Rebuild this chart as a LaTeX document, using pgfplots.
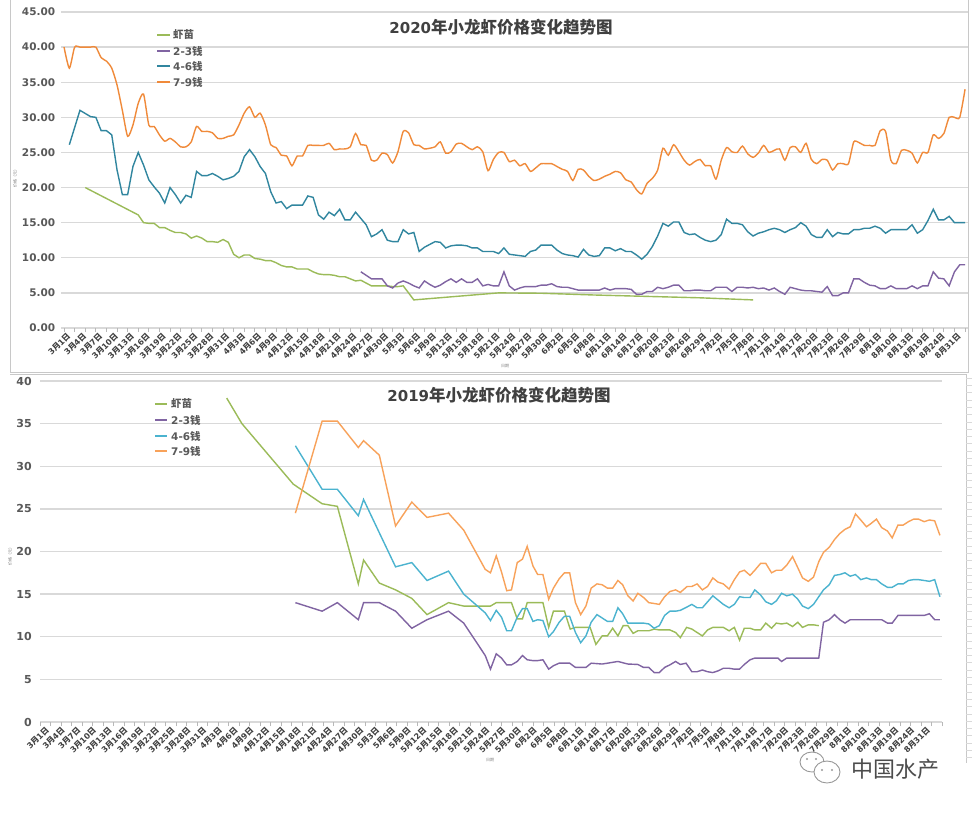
\documentclass[border=0pt]{standalone}
\usepackage{fontspec}
\setmainfont{DejaVu Sans}
\newfontfamily\cjk{Noto Sans CJK SC}
\usepackage{pgfplots}
\pgfplotsset{compat=1.18}
\definecolor{cgreen}{HTML}{9BBB59}
\definecolor{cpurple}{HTML}{8064A2}
\definecolor{cteal}{HTML}{31869F}
\definecolor{corange}{HTML}{F08A3A}
\definecolor{cteal2}{HTML}{4BB3CF}
\definecolor{corange2}{HTML}{F8A25A}
\definecolor{cgreen2}{HTML}{9BBB59}
\definecolor{cgrid}{HTML}{D9D9D9}
\definecolor{ctext}{HTML}{595959}
\definecolor{ctitle}{HTML}{404040}
\definecolor{cframe}{HTML}{C8C8C8}
\newcommand\yue{{\cjk 月}}
\newcommand\ri{{\cjk 日}}
\pgfplotsset{
 mylabels/.style={xticklabels={3\yue1\ri,3\yue4\ri,3\yue7\ri,3\yue10\ri,3\yue13\ri,3\yue16\ri,3\yue19\ri,3\yue22\ri,3\yue25\ri,3\yue28\ri,3\yue31\ri,
 4\yue3\ri,4\yue6\ri,4\yue9\ri,4\yue12\ri,4\yue15\ri,4\yue18\ri,4\yue21\ri,4\yue24\ri,4\yue27\ri,4\yue30\ri,
 5\yue3\ri,5\yue6\ri,5\yue9\ri,5\yue12\ri,5\yue15\ri,5\yue18\ri,5\yue21\ri,5\yue24\ri,5\yue27\ri,5\yue30\ri,
 6\yue2\ri,6\yue5\ri,6\yue8\ri,6\yue11\ri,6\yue14\ri,6\yue17\ri,6\yue20\ri,6\yue23\ri,6\yue26\ri,6\yue29\ri,
 7\yue2\ri,7\yue5\ri,7\yue8\ri,7\yue11\ri,7\yue14\ri,7\yue17\ri,7\yue20\ri,7\yue23\ri,7\yue26\ri,7\yue29\ri,
 8\yue1\ri,8\yue10\ri,8\yue13\ri,8\yue19\ri,8\yue24\ri,8\yue31\ri}},
 mystyle/.style={
  scale only axis, anchor=south west,
  axis line style={draw=none},
  major tick length=0pt, minor tick length=4pt, tick align=outside,
  xtick pos=bottom, ytick pos=left,
  ymajorgrids, grid style={cgrid, line width=1.3pt},
  minor tick style={cgrid!85!black, line width=0.8pt},
  xtick={0,3,...,168}, mylabels,
  xticklabel style={rotate=45, anchor=east, inner sep=0pt, xshift=-1pt, yshift=-8pt,
     font=\fontsize{8}{9}\selectfont\bfseries, text=ctitle},
  yticklabel style={inner sep=0pt, text=ctext},
  every axis plot/.append style={line width=1.4pt, mark=none},
 }
}
\begin{document}
\begin{tikzpicture}[x=1pt,y=1pt]
\useasboundingbox (0,0) rectangle (974,812);
\fill[white] (0,0) rectangle (974,812);
% frames
\draw[cframe, line width=0.8pt] (10,812) -- (10,440) -- (968,440) -- (968,812);
\draw[cframe, line width=0.8pt] (10,438) -- (966,438) -- (966,49);
\foreach \k in {0,...,52} {\draw[cgrid, line width=0.5pt] (966,434-7.3*\k) -- (972,434-7.3*\k);}

% ===== 2020 =====
\begin{axis}[mystyle, at={(61.4pt,484pt)}, width=906.3pt, height=316pt,
  xmin=-0.5, xmax=170.5, ymin=0, ymax=45,
  minor xtick={0,2,...,170},
  ytick={0,5,...,45}, yticklabels={0.00,5.00,10.00,15.00,20.00,25.00,30.00,35.00,40.00,45.00},
  yticklabel style={xshift=-6pt, font=\fontsize{10.5}{12}\selectfont\bfseries}]
\addplot[cgreen] coordinates {(4,20.0)(14,16.1)(15,15.0)(16,14.9)(17,14.9)(18,14.3)(19,14.3)(20,13.9)(21,13.6)(22,13.6)(23,13.4)(24,12.8)(25,13.1)(26,12.8)(27,12.3)(28,12.3)(29,12.2)(30,12.6)(31,12.2)(32,10.5)(33,10.0)(34,10.4)(35,10.4)(36,9.9)(37,9.8)(38,9.6)(39,9.6)(40,9.3)(41,8.9)(42,8.7)(43,8.7)(44,8.4)(45,8.4)(46,8.4)(47,8.0)(48,7.7)(49,7.6)(50,7.6)(51,7.5)(52,7.3)(53,7.3)(54,7.0)(55,6.7)(56,6.8)(57,6.4)(58,6.0)(59,6.0)(60,6.0)(61,6.0)(62,5.9)(63,5.9)(64,6.0)(66,4.0)(82,5.0)(90,4.95)(100,4.7)(110,4.5)(120,4.3)(130,4.0)};
\addplot[cpurple] coordinates {(56,8.0)(57,7.5)(58,7.0)(59,7.0)(60,7.0)(61,6.0)(62,5.7)(63,6.4)(64,6.7)(65,6.4)(66,6.0)(67,5.7)(68,6.7)(69,6.2)(70,5.8)(71,6.1)(72,6.6)(73,7.0)(74,6.5)(75,7.0)(76,6.5)(77,6.5)(78,7.0)(79,6.0)(80,6.2)(81,6.0)(82,6.0)(83,8.0)(84,6.0)(85,5.4)(86,5.7)(87,5.9)(88,5.9)(89,5.9)(90,6.1)(91,6.1)(92,6.3)(93,5.9)(94,5.8)(95,5.8)(96,5.6)(97,5.4)(98,5.4)(99,5.4)(100,5.4)(101,5.4)(102,5.7)(103,5.4)(104,5.6)(105,5.6)(106,5.6)(107,5.5)(108,4.8)(109,4.8)(110,5.2)(111,5.2)(112,5.8)(113,5.6)(114,5.8)(115,6.1)(116,6.1)(117,5.3)(118,5.3)(119,5.4)(120,5.4)(121,5.3)(122,5.3)(123,5.8)(124,5.8)(125,5.8)(126,5.2)(127,5.8)(128,5.8)(129,5.7)(130,5.8)(131,5.6)(132,5.7)(133,5.4)(134,5.7)(135,5.2)(136,4.8)(137,5.8)(138,5.6)(139,5.4)(140,5.3)(141,5.3)(142,5.2)(143,5.1)(144,5.9)(145,4.6)(146,4.6)(147,5.0)(148,5.0)(149,7.0)(150,7.0)(151,6.5)(152,6.1)(153,6.0)(154,5.6)(155,5.6)(156,6.0)(157,5.6)(158,5.6)(159,5.6)(160,6.0)(161,5.6)(162,6.0)(163,6.0)(164,8.0)(165,7.1)(166,7.0)(167,6.0)(168,8.0)(169,9.0)(170,9.0)};
\addplot[cteal] coordinates {(1,26.1)(3,31.0)(5,30.1)(6,30.0)(7,28.1)(8,28.1)(9,27.5)(10,22.5)(11,19.0)(12,19.0)(13,23.0)(14,25.0)(15,23.2)(16,21.1)(17,20.1)(18,19.2)(19,17.8)(20,20.0)(21,19.0)(22,17.8)(23,18.9)(24,18.6)(25,22.3)(26,21.7)(27,21.7)(28,22.0)(29,21.6)(30,21.1)(31,21.3)(32,21.6)(33,22.3)(34,24.4)(35,25.4)(36,24.4)(37,23.0)(38,22.0)(39,19.4)(40,17.8)(41,18.0)(42,17.0)(43,17.5)(44,17.5)(45,17.5)(46,18.8)(47,18.6)(48,16.1)(49,15.5)(50,16.5)(51,16.0)(52,16.9)(53,15.4)(54,15.4)(55,16.5)(56,15.6)(57,14.7)(58,13.0)(59,13.4)(60,14.0)(61,12.5)(62,12.3)(63,12.3)(64,14.0)(65,13.4)(66,13.6)(67,10.9)(68,11.5)(69,11.9)(70,12.3)(71,12.2)(72,11.4)(73,11.7)(74,11.8)(75,11.8)(76,11.7)(77,11.4)(78,11.4)(79,10.9)(80,10.9)(81,10.9)(82,10.6)(83,11.4)(84,10.5)(85,10.4)(86,10.3)(87,10.2)(88,10.9)(89,11.1)(90,11.8)(91,11.8)(92,11.8)(93,11.1)(94,10.6)(95,10.4)(96,10.3)(97,10.1)(98,11.2)(99,10.4)(100,10.2)(101,10.3)(102,11.4)(103,11.4)(104,11.0)(105,11.3)(106,10.9)(107,10.9)(108,10.4)(109,9.8)(110,10.5)(111,11.6)(112,13.1)(113,14.9)(114,14.5)(115,15.1)(116,15.1)(117,13.6)(118,13.3)(119,13.4)(120,12.9)(121,12.5)(122,12.3)(123,12.5)(124,13.3)(125,15.5)(126,14.9)(127,14.9)(128,14.7)(129,13.7)(130,13.1)(131,13.5)(132,13.7)(133,14.0)(134,14.2)(135,14.0)(136,13.6)(137,14.0)(138,14.3)(139,15.0)(140,14.5)(141,13.3)(142,12.9)(143,12.9)(144,14.0)(145,13.0)(146,13.6)(147,13.4)(148,13.4)(149,14.0)(150,14.0)(151,14.2)(152,14.2)(153,14.5)(154,14.2)(155,13.5)(156,14.0)(157,14.0)(158,14.0)(159,14.0)(160,14.7)(161,13.5)(162,14.0)(163,15.3)(164,16.9)(165,15.4)(166,15.4)(167,15.9)(168,15.0)(169,15.0)(170,15.0)};
\addplot[corange, smooth, tension=0.4] coordinates {(0,40)(1,37)(2,40)(3,40)(4,40)(5,40)(6,40)(7,38.5)(8,38)(9,37)(10,34.6)(11,31)(12,27.3)(13,28.9)(14,32)(15,33.3)(16,28.9)(17,28.7)(18,27.5)(19,26.6)(20,27.0)(21,26.5)(22,25.8)(23,25.8)(24,26.5)(25,28.7)(26,28)(27,28)(28,27.8)(29,27.0)(30,27.0)(31,27.3)(32,27.5)(33,28.9)(34,30.6)(35,31.5)(36,30.0)(37,30.6)(38,28.9)(39,26.1)(40,25.7)(41,24.6)(42,24.5)(43,23.1)(44,24.5)(45,24.5)(46,26.0)(47,26)(48,26)(49,26)(50,26.3)(51,25.4)(52,25.5)(53,25.5)(54,25.8)(55,27.7)(56,26.1)(57,26.0)(58,23.9)(59,23.9)(60,24.9)(61,24.7)(62,23.5)(63,25.1)(64,28.0)(65,27.8)(66,26.1)(67,26.0)(68,25.5)(69,25.6)(70,25.8)(71,26.5)(72,24.9)(73,25.1)(74,26.2)(75,26.3)(76,25.8)(77,25.4)(78,25.8)(79,25.1)(80,22.4)(81,24.0)(82,25.0)(83,25.0)(84,23.7)(85,23.9)(86,23.1)(87,23.4)(88,22.3)(89,22.8)(90,23.4)(91,23.4)(92,23.4)(93,23.0)(94,22.6)(95,22.3)(96,21.0)(97,22.6)(98,22.5)(99,21.6)(100,21.0)(101,21.2)(102,21.6)(103,21.9)(104,22.3)(105,22.1)(106,21.1)(107,20.8)(108,19.7)(109,19.1)(110,20.6)(111,21.3)(112,22.5)(113,25.6)(114,24.6)(115,26.1)(116,25.1)(117,23.9)(118,23.2)(119,23.7)(120,24.0)(121,23.1)(122,23.1)(123,21.2)(124,23.9)(125,25.7)(126,25.1)(127,25.0)(128,25.9)(129,24.8)(130,24.3)(131,24.9)(132,26.0)(133,25.0)(134,25.3)(135,25.5)(136,23.9)(137,25.7)(138,25.8)(139,25.0)(140,26.3)(141,24.0)(142,23.4)(143,24.0)(144,23.9)(145,22.5)(146,23.4)(147,23.4)(148,23.4)(149,26.5)(150,26.4)(151,26.0)(152,26.0)(153,26.0)(154,28.1)(155,28.0)(156,23.9)(157,23.4)(158,25.3)(159,25.3)(160,24.9)(161,23.5)(162,25.0)(163,25.0)(164,27.5)(165,27.0)(166,27.7)(167,30.0)(168,30)(169,30.0)(170,34.0)};
\end{axis}

% ===== 2019 =====
\begin{axis}[mystyle, at={(40pt,90pt)}, width=902pt, height=341pt,
  xmin=-0.5, xmax=171.5, ymin=0, ymax=40,
  minor xtick={-0.5,1.5,...,171.5},
  ytick={0,5,...,40}, yticklabels={0,5,10,15,20,25,30,35,40},
  yticklabel style={xshift=-8pt, font=\fontsize{11}{12}\selectfont\bfseries}]
\addplot[cgreen2] coordinates {(35.1,38.0)(38.0,35.0)(47.8,27.9)(53.3,25.6)(56.2,25.3)(60.2,16.2)(61.2,19.0)(64.2,16.3)(67.3,15.5)(70.4,14.5)(73.3,12.6)(77.4,14.0)(80.3,13.6)(85.4,13.6)(86.5,14.0)(89.4,14.0)(90.5,12.1)(91.5,12.1)(92.4,14.0)(95.4,14.0)(96.5,11.1)(97.4,13.0)(99.5,13.0)(100.6,10.9)(101.6,11.1)(104.4,11.1)(105.5,9.1)(106.7,10.1)(107.7,10.1)(108.7,11.0)(109.7,10.1)(110.7,11.3)(111.6,11.3)(112.6,10.4)(113.5,10.7)(115.6,10.7)(116.6,10.9)(117.6,10.8)(119.6,10.8)(120.7,10.5)(121.6,9.9)(122.8,11.1)(123.8,10.9)(124.8,10.5)(125.8,10.1)(126.8,10.8)(127.8,11.1)(129.8,11.1)(130.9,10.7)(131.9,11.1)(132.9,9.6)(133.8,11.0)(134.9,11.0)(135.8,10.8)(136.9,10.8)(137.9,11.6)(139.0,11.0)(139.9,11.6)(140.9,11.5)(141.9,11.6)(143.0,11.2)(144.0,11.7)(144.9,11.1)(146.0,11.4)(147.0,11.4)(148.0,11.3)};
\addplot[cpurple] coordinates {(48.2,14.0)(53.3,13.0)(56.2,14.0)(60.2,12.0)(61.2,14.0)(64.2,14.0)(67.3,13.0)(70.4,11.0)(73.3,12.0)(77.4,13.0)(80.3,11.6)(84.4,7.8)(85.4,6.2)(86.5,8.0)(87.5,7.5)(88.5,6.7)(89.4,6.7)(90.5,7.1)(91.5,7.8)(92.4,7.3)(93.5,7.2)(94.4,7.2)(95.4,7.3)(96.5,6.2)(97.4,6.6)(98.5,6.9)(99.5,6.9)(100.5,6.9)(101.6,6.4)(103.6,6.4)(104.6,6.9)(106.7,6.8)(109.7,7.1)(111.6,6.8)(113.5,6.75)(114.6,6.4)(115.6,6.4)(116.6,5.8)(117.6,5.8)(118.6,6.4)(119.6,6.7)(120.7,7.1)(121.6,6.75)(122.7,6.9)(123.8,5.9)(124.8,5.9)(125.8,6.1)(126.8,5.9)(127.8,5.8)(128.8,6.0)(129.8,6.3)(130.9,6.3)(131.9,6.2)(132.9,6.2)(133.8,6.75)(134.9,7.3)(135.8,7.5)(140.2,7.5)(140.9,7.1)(141.9,7.5)(148.0,7.5)(148.9,11.7)(150.0,12.0)(151.0,12.6)(152.0,12.0)(153.0,11.6)(154.0,12.0)(160.0,12.0)(161.1,11.6)(162.0,11.6)(163.1,12.5)(168.1,12.5)(169.1,12.7)(170.1,12.0)(171.1,12.0)};
\addplot[cteal2] coordinates {(48.2,32.4)(53.3,27.3)(56.2,27.3)(60.2,24.2)(61.2,26.1)(64.2,22.2)(67.3,18.2)(70.4,18.7)(73.3,16.6)(77.4,17.7)(80.3,15.0)(84.4,12.8)(85.4,11.9)(86.5,13.1)(87.5,12.3)(88.5,10.7)(89.4,10.7)(90.5,12.3)(91.5,13.3)(92.4,13.3)(93.5,11.8)(94.4,12.0)(95.4,11.9)(96.5,10.0)(97.4,10.6)(98.5,11.7)(99.5,12.4)(100.5,12.4)(101.6,10.5)(102.6,9.3)(103.6,10.1)(104.6,11.7)(105.7,12.6)(106.7,12.2)(107.7,11.8)(108.7,11.8)(109.7,13.4)(110.6,12.7)(111.6,11.6)(112.6,11.6)(113.5,11.6)(114.6,11.6)(115.6,11.5)(116.6,11.0)(117.6,11.3)(118.6,12.5)(119.6,13.0)(120.7,13.0)(121.6,13.1)(122.9,13.5)(123.8,13.8)(124.8,13.4)(125.8,13.4)(126.8,14.1)(127.8,14.8)(128.8,14.3)(129.8,13.8)(130.9,13.4)(131.9,13.8)(132.9,14.7)(133.8,14.6)(134.9,14.6)(135.8,15.5)(136.9,14.9)(137.9,14.1)(139.0,13.8)(139.9,14.2)(140.9,15.1)(141.9,14.8)(143.0,15.0)(144.0,14.4)(144.9,13.6)(146.0,13.3)(147.0,13.8)(148.0,14.7)(148.9,15.5)(150.0,16.1)(151.0,17.2)(152.0,17.3)(153.0,17.5)(154.0,17.1)(155.0,17.3)(156.0,16.7)(157.1,16.9)(158.0,16.7)(159.0,16.7)(160.0,16.2)(161.1,15.8)(162.0,15.8)(163.1,16.2)(164.1,16.2)(165.1,16.6)(166.1,16.7)(167.0,16.7)(168.1,16.6)(169.1,16.5)(170.1,16.7)(171.1,14.7)};
\addplot[corange2] coordinates {(48.2,24.5)(53.3,35.3)(56.2,35.3)(60.2,32.2)(61.2,33.0)(64.2,31.3)(67.3,23.0)(70.4,25.8)(73.3,24.0)(77.4,24.5)(80.3,22.5)(84.4,17.9)(85.4,17.5)(86.5,19.5)(87.5,17.6)(88.5,15.4)(89.4,15.5)(90.5,18.7)(91.5,19.1)(92.4,20.6)(93.5,18.3)(94.4,17.3)(95.4,17.3)(96.5,14.4)(97.4,15.7)(98.5,16.8)(99.5,17.5)(100.5,17.5)(101.6,14.0)(102.6,12.6)(103.6,13.6)(104.6,15.7)(105.7,16.2)(106.7,16.1)(107.7,15.7)(108.7,15.7)(109.7,16.6)(110.6,16.1)(111.6,14.8)(112.6,14.2)(113.5,15.1)(114.6,14.6)(115.6,14.0)(116.6,13.9)(117.6,13.8)(118.6,14.7)(119.6,15.3)(120.7,15.5)(121.6,15.2)(122.9,15.9)(123.8,15.9)(124.8,16.2)(125.8,15.5)(126.8,15.9)(127.8,16.9)(128.8,16.4)(129.8,16.2)(130.9,15.6)(131.9,16.7)(132.9,17.6)(133.8,17.8)(134.9,17.2)(135.8,17.8)(136.9,18.6)(137.9,18.6)(139.0,17.5)(139.9,17.8)(140.9,17.8)(141.9,18.4)(143.0,19.4)(144.0,18.1)(144.9,16.9)(146.0,16.5)(147.0,17.0)(148.0,18.8)(148.9,19.9)(150.0,20.5)(151.0,21.4)(152.0,22.1)(153.0,22.6)(154.0,22.9)(155.0,24.4)(156.0,23.7)(157.1,22.9)(158.0,23.3)(159.0,23.8)(160.0,22.8)(161.1,22.4)(162.0,21.6)(163.1,23.1)(164.1,23.1)(165.1,23.5)(166.1,23.8)(167.0,23.8)(168.1,23.5)(169.1,23.7)(170.1,23.6)(171.1,21.9)};
\end{axis}

% titles
\node[text=ctitle, font=\bfseries] at (501,785) {\fontsize{15}{18}\selectfont 2020{\cjk\fontsize{16.5}{18}\selectfont 年小龙虾价格变化趋势图}};
\node[text=ctitle, font=\bfseries] at (499,417) {\fontsize{15}{18}\selectfont 2019{\cjk\fontsize{16.5}{18}\selectfont 年小龙虾价格变化趋势图}};

% legends
\begin{scope}[font=\fontsize{10.5}{12}\selectfont\bfseries]
\draw[cgreen, line width=2pt] (157,777) -- (170,777);
\node[anchor=west, text=ctext, inner sep=0pt] at (173,777) {\cjk 虾苗};
\draw[cpurple, line width=2pt] (157,761) -- (170,761);
\node[anchor=west, text=ctext, inner sep=0pt] at (173,761) {2-3{\cjk 钱}};
\draw[cteal, line width=2pt] (157,746) -- (170,746);
\node[anchor=west, text=ctext, inner sep=0pt] at (173,746) {4-6{\cjk 钱}};
\draw[corange, line width=2pt] (157,730) -- (170,730);
\node[anchor=west, text=ctext, inner sep=0pt] at (173,730) {7-9{\cjk 钱}};

\draw[cgreen2, line width=2pt] (155,408) -- (167,408);
\node[anchor=west, text=ctext, inner sep=0pt] at (171,408) {\cjk 虾苗};
\draw[cpurple, line width=2pt] (155,392) -- (167,392);
\node[anchor=west, text=ctext, inner sep=0pt] at (171,392) {2-3{\cjk 钱}};
\draw[cteal2, line width=2pt] (155,376) -- (167,376);
\node[anchor=west, text=ctext, inner sep=0pt] at (171,376) {4-6{\cjk 钱}};
\draw[corange2, line width=2pt] (155,361) -- (167,361);
\node[anchor=west, text=ctext, inner sep=0pt] at (171,361) {7-9{\cjk 钱}};
\end{scope}

% tiny axis titles
\node[rotate=90, text=gray, font=\fontsize{4}{4}\selectfont] at (15,634) {\cjk 价格（元）};
\node[rotate=90, text=gray, font=\fontsize{4}{4}\selectfont] at (10,257) {\cjk 价格（元）};
\node[text=gray, font=\fontsize{4}{4}\selectfont] at (505,446) {\cjk 日期};
\node[text=gray, font=\fontsize{4}{4}\selectfont] at (490,52) {\cjk 日期};

% watermark
\draw[gray!80, line width=0.9pt] (812,50) ellipse [x radius=12, y radius=10];
\filldraw[fill=white, draw=gray!80, line width=0.9pt] (827,40) ellipse [x radius=13, y radius=11];
\fill[gray!80] (822,42) circle (1.2) (832,42) circle (1.2) (807,53) circle (1.2) (816,53) circle (1.2);
\node[text=black!70, font=\fontsize{22}{24}\selectfont] at (895,43) {\cjk 中国水产};
\end{tikzpicture}
\end{document}
